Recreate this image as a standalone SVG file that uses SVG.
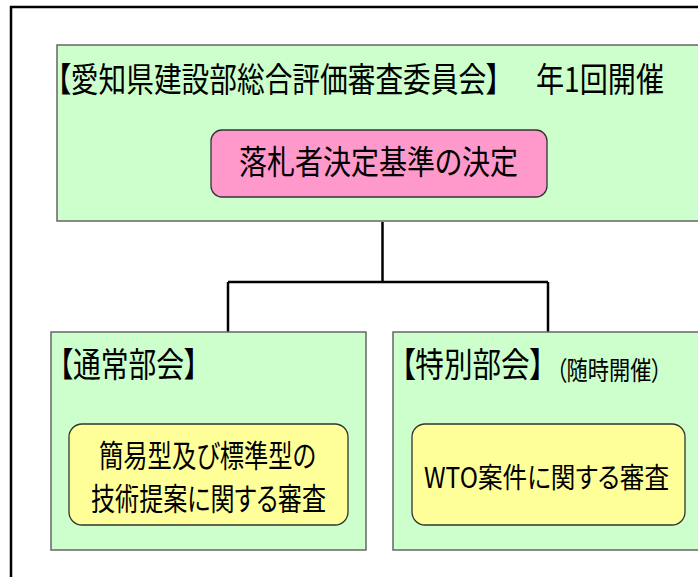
<svg xmlns="http://www.w3.org/2000/svg" width="698" height="577" viewBox="0 0 698 577">
<style>
text{font-family:"Noto Sans CJK JP","Noto Sans",sans-serif;fill:#000;font-feature-settings:"palt"}
.grp{fill:#CCFFCC;stroke:#666;stroke-width:1.5}
.pink{fill:#FF99CC;stroke:#333;stroke-width:1.3}
.yel{fill:#FFFF99;stroke:#333;stroke-width:1.3}
.conn{fill:none;stroke:#000;stroke-width:2.5}
</style>
<rect width="698" height="577" fill="#fff"/>
<rect id="frame" x="11" y="7" width="720" height="600" fill="none" stroke="#000" stroke-width="2.5"/>
<g id="connectors">
<path class="conn" d="M382.5 222 V282"/>
<path class="conn" d="M228 282 H548" stroke-width="3.5"/>
<path class="conn" d="M228 282 V332 M548 282 V332"/>
</g>
<g id="committee">
<rect class="grp" x="57" y="45" width="660" height="176"/>
<text transform="translate(57,92) scale(1,1.22)" font-size="27.7" textLength="443" lengthAdjust="spacingAndGlyphs">【愛知県建設部総合評価審査委員会】</text>
<text transform="translate(536,92) scale(1,1.22)" font-size="28" textLength="128" lengthAdjust="spacingAndGlyphs">年1回開催</text>
</g>
<g id="decision">
<rect class="pink" x="211" y="130" width="336" height="67" rx="11"/>
<text transform="translate(239,174) scale(1,1.18)" font-size="28" textLength="279" lengthAdjust="spacingAndGlyphs">落札者決定基準の決定</text>
</g>
<g id="regular">
<rect class="grp" x="51" y="332" width="315" height="218"/>
<text transform="translate(59,377) scale(1,1.22)" font-size="27.8" textLength="139" lengthAdjust="spacingAndGlyphs">【通常部会】</text>
</g>
<g id="regular-task">
<rect class="yel" x="69" y="424" width="279" height="101" rx="13"/>
<text transform="translate(99,467) scale(1,1.26)" font-size="24.5" textLength="217" lengthAdjust="spacingAndGlyphs">簡易型及び標準型の</text>
<text transform="translate(91,510) scale(1,1.26)" font-size="24.5" textLength="235" lengthAdjust="spacingAndGlyphs">技術提案に関する審査</text>
</g>
<g id="special">
<rect class="grp" x="393" y="332" width="330" height="218"/>
<text transform="translate(401,377) scale(1,1.2)" font-size="28.5" textLength="143" lengthAdjust="spacingAndGlyphs">【特別部会】</text>
<text transform="translate(556,380) scale(1,1.22)" font-size="21.5" textLength="106" lengthAdjust="spacingAndGlyphs">（随時開催）</text>
</g>
<g id="special-task">
<rect class="yel" x="412" y="424" width="273" height="101" rx="13"/>
<text transform="translate(424,488) scale(1,1.25)" font-size="22.5" textLength="245" lengthAdjust="spacingAndGlyphs">WTO案件に関する審査</text>
</g>
</svg>
